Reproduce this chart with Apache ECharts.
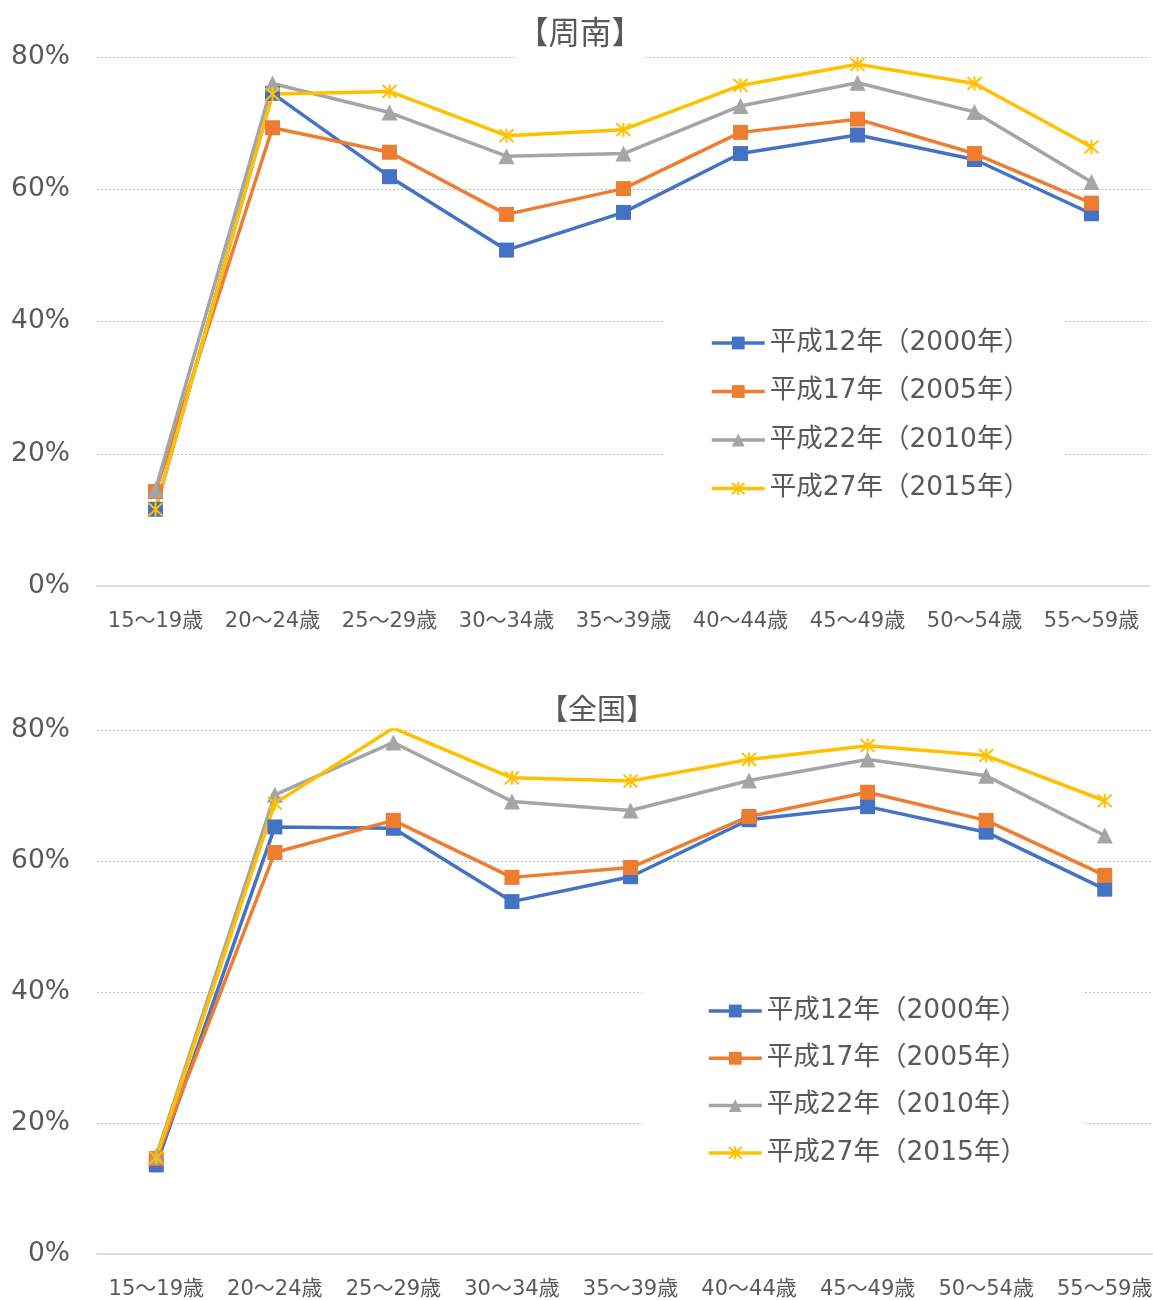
<!DOCTYPE html>
<html>
<head>
<meta charset="utf-8">
<script src="https://cdn.jsdelivr.net/npm/echarts@6/dist/echarts.min.js"></script>
<style>
html,body{margin:0;padding:0;background:#fff;overflow:hidden;}
#c{width:1180px;height:1300px;}
</style>
</head>
<body>
<div id="c"></div>
<script>
const categories = ['15～19歳','20～24歳','25～29歳','30～34歳','35～39歳','40～44歳','45～49歳','50～54歳','55～59歳'];
const seriesNames = ['平成12年（2000年）','平成17年（2005年）','平成22年（2010年）','平成27年（2015年）'];
const yTicks = [0, 20, 40, 60, 80];
const titleTop = '【周南】';
const titleBottom = '【全国】';

const shunan2000 = [11.6, 74.5, 61.9, 50.8, 56.5, 65.4, 68.2, 64.5, 56.3];
const shunan2005 = [14.3, 69.3, 65.6, 56.2, 60.1, 68.6, 70.6, 65.4, 57.9];
const shunan2010 = [14.6, 76.0, 71.6, 65.0, 65.4, 72.6, 76.1, 71.7, 61.1];
const shunan2015 = [11.6, 74.4, 74.8, 68.1, 69.0, 75.7, 78.9, 76.0, 66.4];

const zenkoku2000 = [13.6, 65.2, 65.0, 53.8, 57.6, 66.3, 68.3, 64.4, 55.7];
const zenkoku2005 = [14.6, 61.3, 66.2, 57.5, 59.0, 66.8, 70.5, 66.2, 57.8];
const zenkoku2010 = [15.0, 70.1, 78.1, 69.1, 67.7, 72.3, 75.5, 73.0, 63.9];
const zenkoku2015 = [14.7, 68.8, 80.3, 72.7, 72.2, 75.5, 77.6, 76.1, 69.2];

const colors = ['#4472C4', '#ED7D31', '#A5A5A5', '#FFC000'];
const FONT = "'DejaVu Sans', 'Noto Sans CJK JP', sans-serif";
const starPath = 'path://M0,0 L20,20 M20,0 L0,20 M10,-1 L10,21';
const symbols = ['rect', 'rect', 'triangle', starPath];

function makeSeries(dataList, idx) {
  return dataList.map((d, i) => ({
    name: seriesNames[i],
    type: 'line',
    xAxisIndex: idx,
    yAxisIndex: idx,
    data: d,
    symbol: symbols[i],
    symbolSize: i === 3 ? 14 : (i === 2 ? 16 : 15),
    showAllSymbol: true,
    lineStyle: { color: colors[i], width: 3.5 },
    itemStyle: i === 3 ? { color: colors[i], borderColor: colors[i], borderWidth: 2 } : { color: colors[i], borderWidth: 0 },
    emphasis: { disabled: true },
    animation: false
  }));
}

function xAxisFor(idx) {
  return {
    type: 'category', gridIndex: idx, data: categories, boundaryGap: true,
    axisLine: { lineStyle: { color: '#D9D9D9', width: 1.5 } },
    axisTick: { show: false },
    axisLabel: { color: '#595959', fontSize: 21, fontFamily: FONT, margin: 25, interval: 0 }
  };
}
function yAxisFor(idx) {
  return {
    type: 'value', gridIndex: idx, min: yTicks[0], max: yTicks[yTicks.length - 1], interval: 20,
    axisLine: { show: false }, axisTick: { show: false },
    splitLine: { lineStyle: { color: '#C0C0C0', type: [2, 2], width: 1 } },
    axisLabel: { color: '#595959', fontSize: 26.5, fontFamily: FONT, margin: 27, formatter: '{value}%' }
  };
}

const legendCommon = {
  orient: 'vertical', selectedMode: false, data: seriesNames,
  itemWidth: 53, itemHeight: 16,
  backgroundColor: '#ffffff',
  lineStyle: { width: 3.5 },
  textStyle: { color: '#595959', fontSize: 26.5, fontFamily: FONT, lineHeight: 28 },
  borderWidth: 0
};

const option = {
  backgroundColor: '#ffffff',
  animation: false,
  title: [
    { text: titleTop, left: 517, top: 17, padding: [3, 0, 7, 0], backgroundColor: '#ffffff',
      textStyle: { color: '#595959', fontSize: 31.5, fontWeight: 'normal', fontFamily: FONT } },
    { text: titleBottom, left: 539, top: 698, padding: [0, 0, 0, 0],
      textStyle: { color: '#595959', fontSize: 29, fontWeight: 'normal', fontFamily: FONT } }
  ],
  legend: [
    Object.assign({}, legendCommon, { left: 663, top: 303, padding: [26, 34, 26, 47], itemGap: 20.5 }),
    Object.assign({}, legendCommon, { left: 642, top: 971, padding: [26, 56, 26, 65], itemGap: 19.3 })
  ],
  grid: [
    { left: 97, top: 57, width: 1053, height: 529, containLabel: false },
    { left: 97, top: 730, width: 1067, height: 526, containLabel: false }
  ],
  xAxis: [xAxisFor(0), xAxisFor(1)],
  yAxis: [yAxisFor(0), yAxisFor(1)],
  series: makeSeries([shunan2000, shunan2005, shunan2010, shunan2015], 0)
    .concat(makeSeries([zenkoku2000, zenkoku2005, zenkoku2010, zenkoku2015], 1))
};

const chart = echarts.init(document.getElementById('c'), null, { renderer: 'canvas' });
chart.setOption(option);
</script>
</body>
</html>
